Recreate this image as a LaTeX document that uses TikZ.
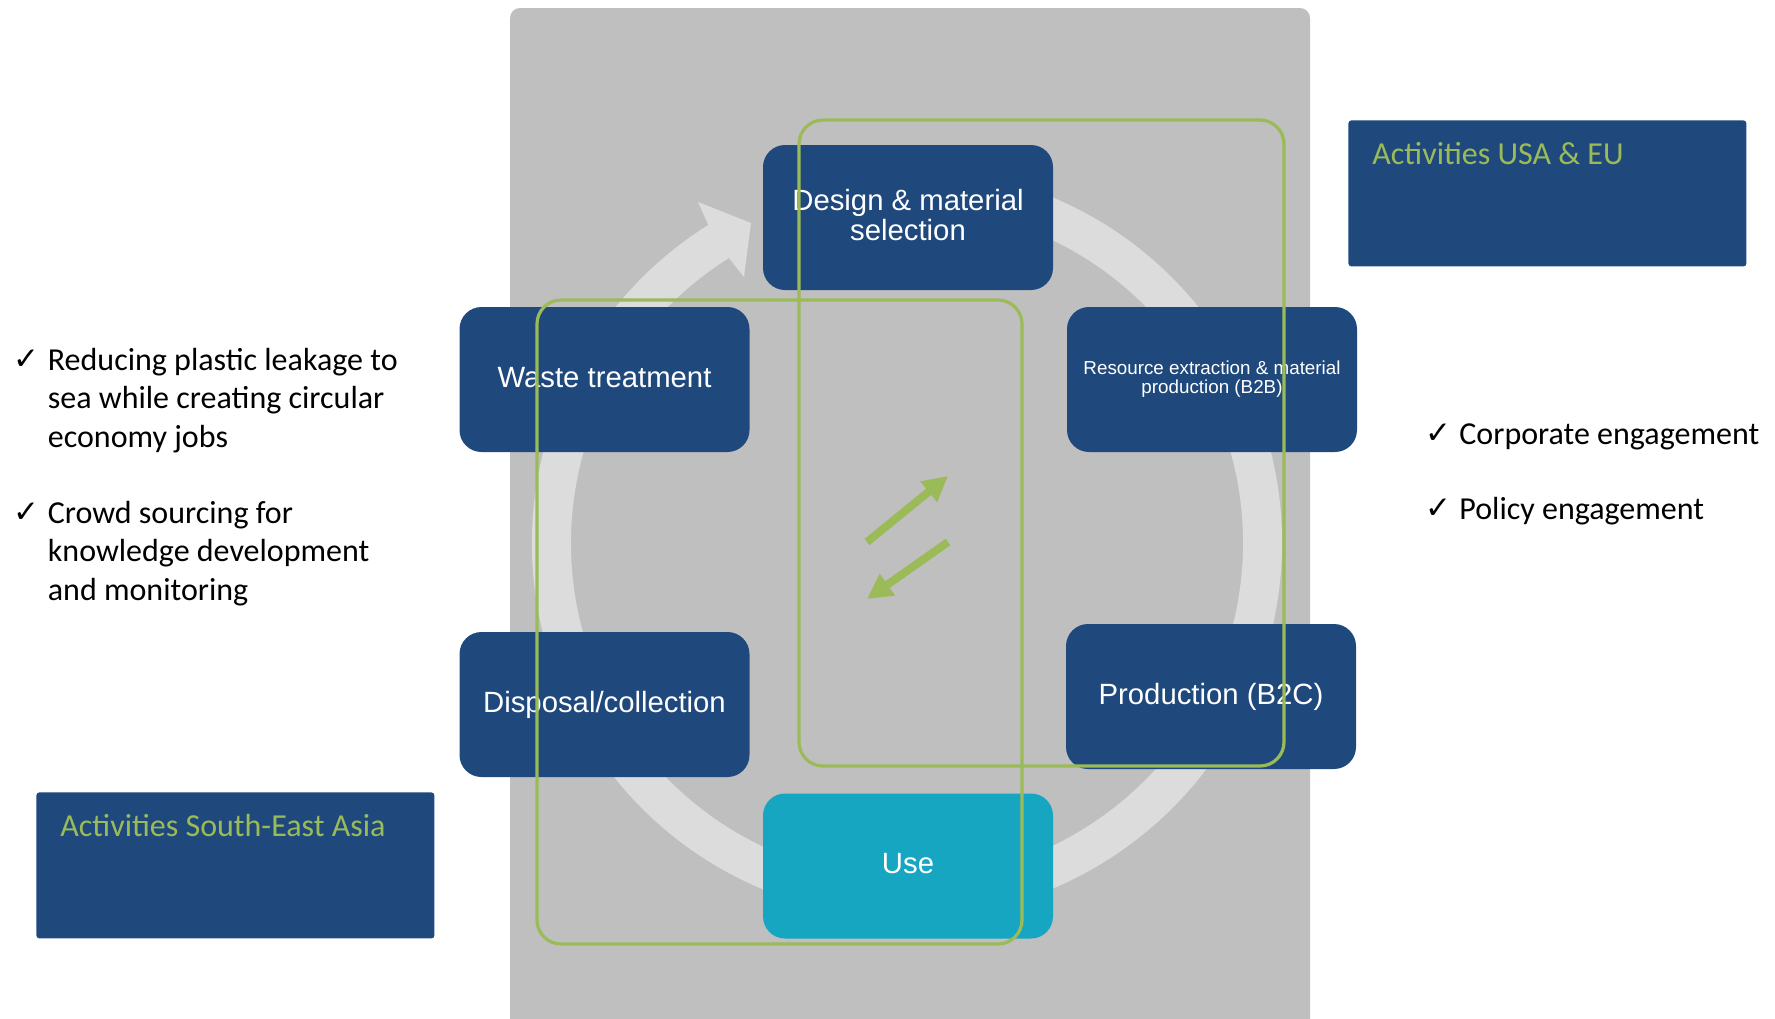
\documentclass[tikz,border=0pt]{standalone}
\usepackage{fontspec}
\setmainfont{Liberation Sans}
\newfontfamily\bodyfont{Carlito}
\newfontfamily\symfont{DejaVu Sans}
\usetikzlibrary{calc,arrows.meta}
\definecolor{bggray}{HTML}{BFBFBF}
\definecolor{ringc}{HTML}{DCDCDC}
\definecolor{dblue}{HTML}{1F497D}
\definecolor{ucyan}{HTML}{17A6C2}
\definecolor{lgreen}{HTML}{9BBB59}
\tikzset{
  stage/.style={fill=dblue, rounded corners=11pt, minimum width=145pt, minimum height=72.5pt,
    text=white, align=center, font=\fontsize{14.65}{14.8}\selectfont, inner sep=0pt},
  raised/.style={text depth=2.4pt},
  gframe/.style={draw=lgreen, line width=1.6pt, rounded corners=12pt},
  garrow/.style={draw=lgreen, line width=4pt, -{Triangle[length=12.5pt,width=12.5pt]}},
  actbox/.style={fill=dblue, rounded corners=1.5pt, minimum width=199pt, minimum height=73pt, inner sep=0pt, anchor=north west},
  acttext/.style={text=lgreen, font=\bodyfont\fontsize{16}{19.25}\selectfont, inner sep=0pt, anchor=base west},
  line/.style={text=black, font=\bodyfont\fontsize{16}{19.25}\selectfont, inner sep=0pt, anchor=base west},
  tick/.style={text=black, font=\symfont\fontsize{15.5}{18}\selectfont, inner sep=0pt, anchor=base west}
}
\begin{document}
\begin{tikzpicture}[x=0.5pt,y=-0.5pt]
\useasboundingbox (0,0) rectangle (1775,1018);
\clip (0,0) rectangle (1775,1018);
% background panel
\fill[bggray, rounded corners=5pt] (510,8) rectangle (1310,1040);
% circular arrow
\coordinate (C) at (907,543);
\fill[ringc] ($(C)+(-80:375)$) arc[start angle=-80,end angle=238,radius=375]
  -- ($(C)+(238.5:400)$) -- ($(C)+(244:356)$) -- ($(C)+(238.5:312)$)
  -- ($(C)+(238:336)$) arc[start angle=238,end angle=-80,radius=336] -- cycle;
% stages
\node[stage, raised] (design) at (908,217.5) {Design \& material\\selection};
\node[stage, raised] (waste) at (604.5,379.5) {Waste treatment};
\node[stage, font=\fontsize{9.4}{9.5}\selectfont] (resource) at (1212,379.5) {Resource extraction \& material\\production (B2B)};
\node[stage] (disposal) at (604.5,704.5) {Disposal/collection};
\node[stage] (production) at (1211,696.5) {Production (B2C)};
\node[stage, raised, fill=ucyan] (use) at (908,866) {Use};
% green frames
\draw[gframe] (799,120) rectangle (1284,766);
\draw[gframe] (537,300) rectangle (1022,944);
% green arrows
\coordinate (a1s) at (867,542); \coordinate (a1e) at (948,476);
\coordinate (a2s) at (948,542); \coordinate (a2e) at (867,599);
\draw[garrow] (a1s) -- (a1e);
\draw[garrow] (a2s) -- (a2e);
% activity boxes
\node[actbox] (usabox) at (1348,120) {};
\node[acttext] (usatext) at (1372,164) {Activities USA \& EU};
\node[actbox] (seabox) at (36,792) {};
\node[acttext] (seatext) at (60,836) {Activities South-East Asia};
% left bullets
\node[tick] (t1) at (13,369) {✓};
\node[line] (l1a) at (47.5,370) {Reducing plastic leakage to};
\node[line] (l1b) at (47.5,408.5) {sea while creating circular};
\node[line] (l1c) at (47.5,447) {economy jobs};
\node[tick] (t2) at (13,522) {✓};
\node[line] (l2a) at (47.5,523) {Crowd sourcing for};
\node[line] (l2b) at (47.5,561.5) {knowledge development};
\node[line] (l2c) at (47.5,600) {and monitoring};
% right bullets
\node[tick] (t3) at (1425,443) {✓};
\node[line] (r1) at (1459,444) {Corporate engagement};
\node[tick] (t4) at (1425,518) {✓};
\node[line] (r2) at (1459,519) {Policy engagement};
\end{tikzpicture}
\end{document}
